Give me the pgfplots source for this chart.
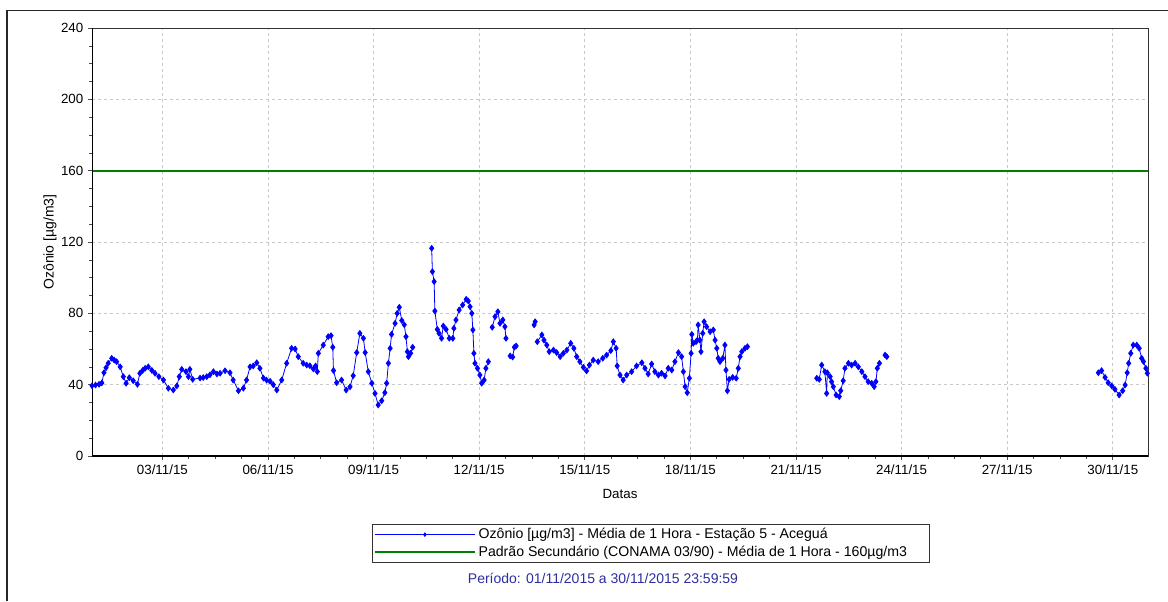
\documentclass[border=0pt]{standalone}
\usepackage{pgfplots}
\pgfplotsset{compat=1.18}
\usepackage{fontspec}
\setmainfont{Liberation Sans}
\definecolor{gridgray}{RGB}{200,200,200}
\definecolor{ozblue}{RGB}{0,0,255}
\definecolor{padgreen}{RGB}{0,128,0}
\definecolor{perblue}{RGB}{45,45,160}
\begin{document}
\begin{tikzpicture}[x=0.75pt,y=0.75pt]
\path[use as bounding box] (0,0) rectangle (1168,601);
\draw[line width=0.8pt, black!85] (7,0) -- (7,590.5) -- (1168,590.5);
\begin{axis}[
  at={(69pt,108.75pt)}, anchor=south west,
  scale only axis, width=792pt, height=321pt,
  xmin=1, xmax=31, ymin=0, ymax=240,
  font=\fontsize{10}{12}\selectfont,
  /pgf/number format/assume math mode=true,
  xtick={3,6,...,30},
  xticklabels={03/11/15,06/11/15,09/11/15,12/11/15,15/11/15,18/11/15,21/11/15,24/11/15,27/11/15,30/11/15},
  minor x tick num=3,
  ytick={0,40,...,240},
  minor y tick num=3,
  tick align=outside,
  major tick length=3pt, minor tick length=2pt,
  tick style={black!70, line width=0.5pt},
  xtick pos=bottom, ytick pos=left,
  grid=major,
  major grid style={gridgray, dash pattern=on 2.5pt off 2pt, line width=0.6pt},
  axis line style={black!80, line width=0.6pt},
  xlabel={Datas}, ylabel={Ozônio [µg/m3]},
  xlabel style={at={(axis description cs:0.5,-0.0888)}, anchor=center},
  ylabel style={at={(axis description cs:-0.0398,0.5)}, anchor=center, font=\fontsize{10.5}{12}\selectfont},
  unbounded coords=jump,
  legend style={at={(axis description cs:0.2652,-0.1589)}, anchor=north west,
    draw=black!80, line width=0.6pt, inner sep=1pt, row sep=0pt,
    font=\fontsize{10.6}{12}\selectfont, legend cell align=left},
  legend image code/.code={\draw[mark repeat=2,mark phase=2,#1,mark size=1.3pt] plot coordinates {(0pt,0pt) (37.5pt,0pt) (75pt,0pt)};},
]
\addplot[color=ozblue, line width=0.6pt, mark=diamond*, mark size=2.1pt, mark options={fill=ozblue, draw=ozblue}] coordinates {
(1.00,39.4)(1.10,39.8)(1.20,40.2)(1.28,41)(1.34,46.7)(1.40,49.5)(1.46,52)(1.56,54.8)(1.63,53.8)(1.70,52.9)(1.80,50)(1.89,44.5)(1.97,40.8)
(2.06,43.9)(2.17,42.2)(2.29,40.2)(2.36,46.4)(2.44,48)(2.51,49.2)(2.60,50)(2.70,48)(2.79,46.4)(2.90,44.5)(3.03,42.6)(3.17,38)(3.31,37)
(3.41,39.3)(3.48,44.5)(3.55,48.6)(3.67,47.3)(3.74,44.5)(3.78,48.6)(3.86,43)(4.07,43.7)(4.16,44)(4.26,44.5)(4.35,45.5)(4.45,47.3)(4.55,46)(4.64,46.4)
(4.78,47.8)(4.92,46.7)(5.01,42.6)(5.16,36.6)(5.30,38)(5.39,42.6)(5.49,50)(5.58,50.5)(5.68,52.3)(5.77,49.2)(5.87,43.7)(5.96,42.5)(6.06,41.9)(6.15,40)
(6.25,37)(6.39,42.6)(6.53,52)(6.67,60.4)(6.77,60)(6.86,55.7)(7.00,52)(7.10,51)(7.19,50.6)(7.29,48.8)(7.35,50.5)(7.40,47.3)(7.43,57.6)(7.57,62.2)
(7.71,66.9)(7.79,67.5)(7.84,61)(7.86,47.9)(7.95,41.1)(8.09,42.6)(8.22,37)(8.33,38.8)(8.42,45)(8.52,58)(8.61,68.8)(8.71,66)(8.76,58)
(8.85,47.3)(8.95,40.8)(9.04,35.1)(9.13,28.6)(9.23,31)(9.32,35.5)(9.37,40.8)(9.42,52)(9.47,60.4)(9.51,68.2)(9.61,74.4)(9.67,80)(9.73,83.4)
(9.80,76)(9.87,73.6)(9.92,66.9)(9.96,58.5)(9.99,55.7)(10.05,57.6)(10.11,61)
(10.4,nan)
(10.65,116.5)(10.67,103.4)(10.72,97.8)(10.74,81.3)(10.81,71)(10.86,68.8)(10.93,66)(10.98,72.9)(11.06,71)(11.15,66)(11.25,66)(11.28,71.6)
(11.34,76.3)(11.43,81.9)(11.53,84.7)(11.63,87.9)(11.69,86.9)(11.74,83.7)(11.79,80)(11.82,70.7)(11.85,57.6)(11.88,52)(11.95,49.2)(12.02,45.4)
(12.07,40.8)(12.14,42.6)(12.19,49.2)(12.26,52.9)
(12.32,nan)
(12.37,72.2)(12.45,78.1)(12.53,80.9)(12.59,74.4)(12.67,76.3)(12.73,72.5)(12.76,66)
(12.82,nan)
(12.88,56.1)(12.95,55.5)(13.00,61)(13.05,61.7)
(13.3,nan)
(13.56,73.5)(13.59,75.3)
(13.62,nan)
(13.65,64.1)(13.78,67.9)(13.84,65)(13.92,62.2)(13.99,58.5)(14.11,59.4)(14.20,58)(14.30,55.7)(14.39,57.6)(14.49,59.4)(14.60,63.2)(14.69,60.4)
(14.77,55.7)(14.86,52.9)(14.96,49.7)(15.05,47.7)(15.13,51)(15.24,53.8)(15.38,52.9)(15.51,54.8)(15.62,56.6)(15.74,59.1)(15.81,64.1)(15.89,60.4)
(15.92,50.5)(16.00,45.4)(16.09,42.6)(16.19,45.4)(16.33,47.3)(16.47,50.5)(16.62,52.3)(16.71,49.2)(16.80,46)(16.90,51.6)(16.99,47.3)(17.09,45.4)
(17.18,46.4)(17.28,44.9)(17.37,49.2)(17.47,48.2)(17.56,52.9)(17.66,58)(17.75,55.7)(17.80,47.3)(17.85,38.9)(17.91,35.5)(17.97,43.6)(18.02,57.6)
(18.04,68.2)(18.08,63.2)(18.16,64.1)(18.20,65)(18.22,73.5)(18.27,65)(18.30,58.5)(18.35,68.8)(18.39,75.3)(18.46,72.5)(18.56,69.7)(18.65,70.7)
(18.70,65)(18.75,60.4)(18.79,54.8)(18.84,52.9)(18.92,54.8)(18.98,62.2)(19.01,48.2)(19.05,36.6)(19.10,43)(19.20,44.1)(19.30,43.6)(19.36,49.2)
(19.41,55.7)(19.46,58.5)(19.55,60.4)(19.62,61.3)
(20.5,nan)
(21.59,43.6)(21.66,43)(21.73,51)(21.82,47.3)(21.87,35.1)(21.89,46.7)(21.97,44.5)(22.01,41.7)(22.06,38.9)(22.14,34.2)(22.23,33.3)(22.27,36.6)
(22.34,42.2)(22.39,49.2)(22.49,52)(22.58,51)(22.68,52)(22.77,50)(22.87,47.3)(22.96,44.5)(23.05,41.7)(23.15,40.8)(23.22,38.9)(23.27,41.7)
(23.31,49.2)(23.37,52)
(23.45,nan)
(23.53,56.6)(23.58,55.7)
(26.0,nan)
(29.59,46.7)(29.68,47.9)(29.78,44.1)(29.87,41.1)(29.97,39.3)(30.06,37.4)(30.18,34.2)(30.28,36.6)(30.35,39.8)(30.41,46.7)(30.45,52)(30.51,57.6)
(30.58,62.2)(30.68,62.2)(30.75,60.4)(30.82,54.8)(30.87,53)(30.94,49.2)(30.98,46.4)
};
\addlegendentry{Ozônio [µg/m3] - Média de 1 Hora - Estação 5 - Aceguá}
\addplot[color=padgreen, line width=1.6pt] coordinates {(1,160) (31,160)};
\addlegendentry{Padrão Secundário (CONAMA 03/90) - Média de 1 Hora - 160µg/m3\hspace*{14pt}}
\draw[black, line width=1.5pt] (rel axis cs:0,1) -- (rel axis cs:0,0) -- (rel axis cs:1,0);
\end{axis}
\node[text=perblue, font=\fontsize{10.5}{12}\selectfont] at (603,23) {Período: 01/11/2015 a 30/11/2015 23:59:59};
\end{tikzpicture}
\end{document}
